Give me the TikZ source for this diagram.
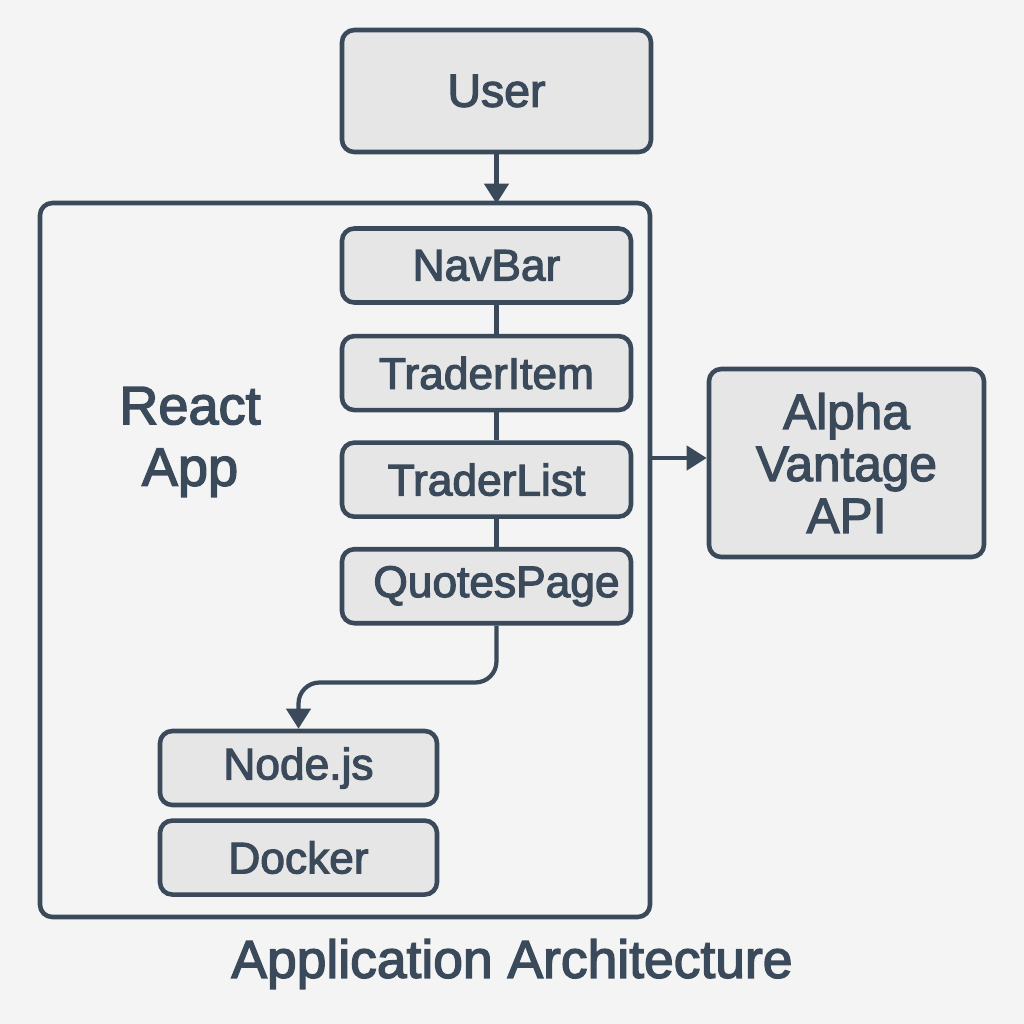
\documentclass[tikz,border=0pt]{standalone}
\usepackage{fontspec}
\setmainfont{Liberation Sans}[BoldFont={Liberation Sans}, BoldFeatures={FakeBold=2.6}]
\usetikzlibrary{positioning,calc}
\usetikzlibrary{arrows.meta}
\definecolor{ink}{HTML}{3B4A5A}
\definecolor{boxfill}{HTML}{E6E6E6}
\definecolor{paper}{HTML}{F4F4F4}
\tikzset{>={Triangle[width=2.4mm,length=2.0mm]}}
\tikzset{block/.style = {draw=ink, fill=boxfill, rectangle, rounded corners=3.5pt,
                  line width=1.3pt, text=ink, font=\fontsize{12.6}{14}\selectfont\bfseries,
                  minimum height=0.74cm, minimum width=2.89cm, inner sep=0pt},
        frame/.style = {draw=ink, fill=paper, rectangle, rounded corners=3.5pt,
                  line width=1.3pt, inner sep=0pt},
        link/.style = {draw=ink, line width=1.2pt}
    }

\begin{document}
\begin{tikzpicture}
          \fill[paper] (0,0) rectangle (10.24,-10.24);
          \useasboundingbox (0,0) rectangle (10.24,-10.24);

          \node[frame, minimum width=6.10cm, minimum height=7.14cm] (app) at (3.45,-5.60) {};
          \node[block, minimum width=3.09cm, minimum height=1.22cm,
                font=\fontsize{13.2}{15}\selectfont\bfseries] (usr) at (4.965,-0.91) {User};

          \node[block] (nb) at (4.865,-2.655) {NavBar};
          \node[block, below = 0.29 of nb] (ti) {TraderItem};
          \node[block, below = 0.28 of ti] (tl) {TraderList};
          \node[block, below = 0.28 of tl] (qp) {\hspace{0.2cm}QuotesPage};

          \node[block, minimum width=2.77cm] (njs) at (2.985,-7.68) {Node.js};
          \node[block, minimum width=2.77cm, below = 0.11 of njs] (dkr) {Docker};

          \node[block, minimum width=2.75cm, minimum height=1.88cm, align=center,
                font=\fontsize{14.1}{14.8}\selectfont\bfseries] (api) at (8.465,-4.63) {Alpha\\Vantage\\API};

          \node[text=ink, align=center, font=\fontsize{15.4}{17.5}\selectfont\bfseries] (lbl) at (1.90,-4.42) {React\\App};
          \node[text=ink, font=\fontsize{15.2}{17}\selectfont\bfseries] (ttl) at (5.12,-9.64) {Application Architecture};

          % connectors
          \draw[link, ->] (usr.south) -- ([yshift=-0.03cm]app.north -| usr.south);
          \foreach \a/\b in {nb/ti, ti/tl, tl/qp} {
            \draw[link] (\a.south -| usr.south) -- (\b.north -| usr.south);
          }
          \draw[link, ->, rounded corners=6pt] (qp.south -| usr.south) -- ++(0,-0.57) -| (njs.north);
          \draw[link, ->] ([yshift=0.05cm]app.east |- api.west) -- ([yshift=0.05cm]api.west);
        \end{tikzpicture}
\end{document}
